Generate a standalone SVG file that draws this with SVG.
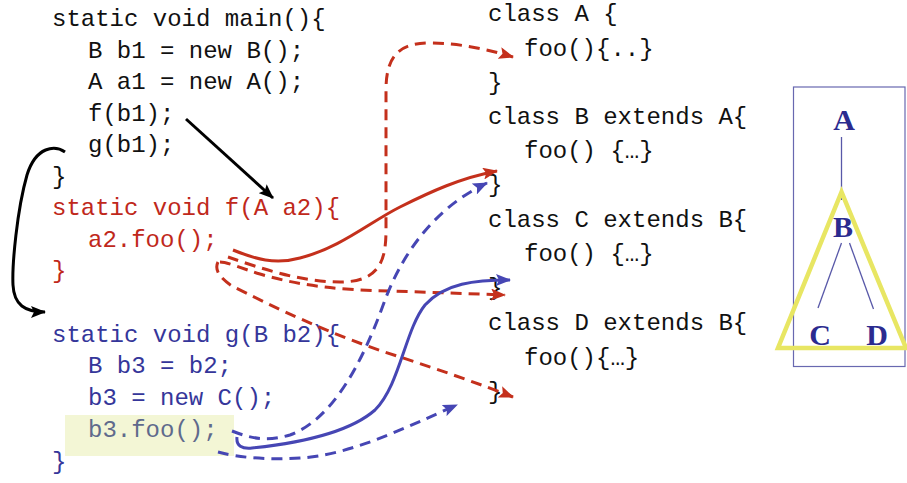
<svg xmlns="http://www.w3.org/2000/svg" width="907" height="483" viewBox="0 0 907 483">
<style>
.code{font-family:"Liberation Mono","Courier New",monospace;font-size:24px;}
.k{fill:#111}
.r{fill:#c0281b}
.b{fill:#35369a}
.g{fill:#5f6a8c}
.tl{font-family:"Liberation Serif","Times New Roman",serif;font-weight:bold;font-size:30px;fill:#2b2b8f;text-anchor:middle}
.red{fill:none;stroke:#c4301c;stroke-width:3}
.blu{fill:none;stroke:#4646b4;stroke-width:3}
.blk{fill:none;stroke:#000;stroke-width:3}
.dash{stroke-dasharray:11 7}
</style>
<defs>
<marker id="ar" markerUnits="userSpaceOnUse" markerWidth="16" markerHeight="12" refX="14" refY="6" orient="auto"><path d="M0,0 L15,6 L0,12 L3,6 Z" fill="#c4301c"/></marker>
<marker id="ab" markerUnits="userSpaceOnUse" markerWidth="16" markerHeight="12" refX="14" refY="6" orient="auto"><path d="M0,0 L15,6 L0,12 L3,6 Z" fill="#4646b4"/></marker>
<marker id="ak" markerUnits="userSpaceOnUse" markerWidth="16" markerHeight="12" refX="14" refY="6" orient="auto"><path d="M0,0 L15,6 L0,12 L3,6 Z" fill="#000"/></marker>
</defs>
<rect x="65" y="415" width="169" height="41" fill="#f3f6d5"/>
<g id="main" class="code k">
<text x="52" y="26">static void main(){</text>
<text x="88" y="57.5">B b1 = new B();</text>
<text x="88" y="89">A a1 = new A();</text>
<text x="88" y="120.5">f(b1);</text>
<text x="88" y="152">g(b1);</text>
<text x="52" y="183.5">}</text>
</g>
<g id="f" class="code r">
<text x="52" y="215">static void f(A a2){</text>
<text x="88" y="246.5">a2.foo();</text>
<text x="52" y="278">}</text>
</g>
<g id="g" class="code b">
<text x="52" y="341.7">static void g(B b2){</text>
<text x="88" y="373.3">B b3 = b2;</text>
<text x="88" y="405">b3 = new C();</text>
<text x="88" y="437" class="g">b3.foo();</text>
<text x="52" y="468.7">}</text>
</g>
<g id="classes" class="code k">
<text x="488" y="21">class A {</text>
<text x="524" y="55.5">foo(){..}</text>
<text x="488" y="89.5">}</text>
<text x="488" y="123.5">class B extends A{</text>
<text x="524" y="158">foo() {…}</text>
<text x="488" y="192">}</text>
<text x="488" y="226.5">class C extends B{</text>
<text x="524" y="261">foo() {…}</text>
<text x="488" y="295">}</text>
<text x="488" y="330">class D extends B{</text>
<text x="524" y="364.5">foo(){…}</text>
<text x="488" y="398.5">}</text>
</g>
<g id="tree">
<rect x="793.5" y="87" width="111.5" height="279.5" fill="none" stroke="#6868b0" stroke-width="1.2"/>
<g stroke="#5858a8" stroke-width="1.3">
<line x1="841.5" y1="137" x2="841.5" y2="200"/>
<line x1="841.5" y1="243" x2="818" y2="308"/>
<line x1="849.5" y1="243" x2="873.5" y2="309"/>
</g>
<polygon points="841.5,192 778,348 906,348" fill="none" stroke="#e8e663" stroke-width="4.5" stroke-linejoin="miter"/>
<text class="tl" x="844" y="130">A</text>
<text class="tl" x="843" y="237">B</text>
<text class="tl" x="820" y="345">C</text>
<text class="tl" x="877" y="345">D</text>
</g>
<g id="connectors">
<line class="blk" x1="186" y1="119" x2="273" y2="198" stroke-width="2.5" marker-end="url(#ak)"/>
<path class="blk" d="M65,152 C55,145 36,146 27,175 C17,210 12,265 13,285 C14,305 25,312 45,312" marker-end="url(#ak)"/>
<path class="red" d="M233,250 C255,259 275,265 300,258 C340,248 370,222 400,207 C430,192 460,178 497,171" marker-end="url(#ar)"/>
<path class="red dash" d="M228,257 C260,268 300,282 340,282 C380,282 386,260 386,230 L386,90 C386,55 400,43 430,43 C460,43 490,50 513,57" marker-end="url(#ar)"/>
<path class="red dash" d="M220,262 C228,262 240,268 260,274 C300,286 340,290 390,291 L505,295" marker-end="url(#ar)"/>
<path class="red dash" d="M218,262 C214,270 220,278 232,286 C270,305 330,335 400,357 C440,370 480,384 513,397" marker-end="url(#ar)"/>
<path class="blu" d="M237,437 C236,446 242,449 252,448 C300,443 350,432 375,410 C400,385 405,330 425,305 C445,283 475,280 510,280" marker-end="url(#ab)"/>
<path class="blu dash" d="M232,431 C250,438 265,442 290,435 C330,420 360,370 385,300 C400,260 430,210 487,183" marker-end="url(#ab)"/>
<path class="blu dash" d="M218,452 C240,458 270,460 300,458 C350,455 400,430 457,405" marker-end="url(#ab)"/>
</g>
</svg>
